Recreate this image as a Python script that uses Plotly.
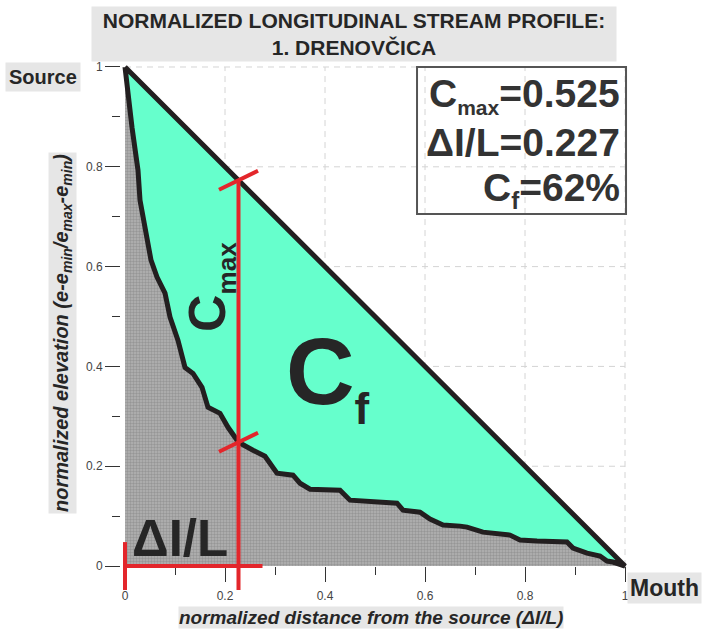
import plotly.graph_objects as go

# ---------------- data ----------------
dist = [0.0, 0.014, 0.026, 0.030, 0.040, 0.052, 0.064, 0.080, 0.090, 0.106, 0.120,
        0.136, 0.154, 0.166, 0.190, 0.206, 0.227, 0.256, 0.280, 0.304, 0.336, 0.350,
        0.370, 0.430, 0.450, 0.470, 0.544, 0.556, 0.590, 0.610, 0.636, 0.670, 0.684,
        0.716, 0.744, 0.770, 0.790, 0.824, 0.884, 0.896, 0.924, 0.950, 0.964, 0.976, 1.0]
elev = [1.0, 0.879, 0.793, 0.733, 0.679, 0.613, 0.579, 0.547, 0.499, 0.452, 0.398,
        0.386, 0.358, 0.318, 0.306, 0.278, 0.248, 0.232, 0.220, 0.186, 0.182, 0.166,
        0.154, 0.152, 0.132, 0.130, 0.126, 0.112, 0.108, 0.094, 0.082, 0.080, 0.078,
        0.068, 0.066, 0.062, 0.052, 0.050, 0.048, 0.036, 0.026, 0.020, 0.010, 0.008, 0.0]
c_max = 0.525
dl_over_L = 0.227
c_f = 62
tick_vals = [0, 0.2, 0.4, 0.6, 0.8, 1]
tick_text = ["0", "0.2", "0.4", "0.6", "0.8", "1"]
grid_vals = [0.2, 0.4, 0.6, 0.8, 1.0]

# ---------------- style ----------------
X_RANGE = [-0.01, 1.01]
Y_RANGE = [-0.05, 1.01]
GREEN = "#66ffcc"
OUTLINE = "#231f20"
RED = "#e3262b"
TXT = "#262626"
FONT = "Liberation Sans, Arial, sans-serif"

fig = go.Figure()

# gray area under the profile
fig.add_trace(go.Scatter(
    x=dist + [0], y=elev + [0], mode="lines", fill="toself",
    fillcolor="#a8a8a8",
    fillpattern=dict(shape=".", bgcolor="#b2b2b2", fgcolor="#7a7a7a", size=3, solidity=0.5),
    line=dict(width=0), hoverinfo="skip", showlegend=False))

# green area between straight line and profile
fig.add_trace(go.Scatter(
    x=[0, 1] + dist[::-1], y=[1, 0] + elev[::-1], mode="lines", fill="toself",
    fillcolor=GREEN, line=dict(color=OUTLINE, width=5),
    hoverinfo="skip", showlegend=False))

shapes = []
# dashed grid
for g in grid_vals:
    shapes.append(dict(type="line", xref="x", yref="y", x0=g, x1=g, y0=0, y1=1,
                       line=dict(color="#d4d4d4", width=1, dash="6px,5px"), layer="below"))
    shapes.append(dict(type="line", xref="x", yref="y", x0=0, x1=1, y0=g, y1=g,
                       line=dict(color="#d4d4d4", width=1, dash="6px,5px"), layer="below"))

top_y = 1 - dl_over_L
low_y = top_y - c_max
ext = 0.048
# red C_max measure
shapes.append(dict(type="line", xref="x", yref="y", x0=dl_over_L, x1=dl_over_L,
                   y0=-ext, y1=top_y, line=dict(color=RED, width=4)))
for cy in (top_y, low_y):
    shapes.append(dict(type="line", xref="x", yref="y", x0=dl_over_L - 0.039, x1=dl_over_L + 0.039,
                       y0=cy - 0.019, y1=cy + 0.019, line=dict(color=RED, width=4)))
# red delta l / L measure
shapes.append(dict(type="line", xref="x", yref="y", x0=0, x1=dl_over_L + ext,
                   y0=0, y1=0, line=dict(color=RED, width=4)))
shapes.append(dict(type="line", xref="x", yref="y", x0=0, x1=0,
                   y0=-ext, y1=ext, line=dict(color=RED, width=4)))
# stats box
shapes.append(dict(type="rect", xref="paper", yref="paper", x0=0.5824, x1=0.9922,
                   y0=0.7127, y1=0.9905, line=dict(color="#555555", width=2),
                   fillcolor="rgba(255,255,255,0)"))

annotations = [
    dict(text="<b>NORMALIZED LONGITUDINAL STREAM PROFILE:<br>1. DRENOVČICA</b>",
         x=0.459, y=1.053, xref="paper", yref="paper", showarrow=False,
         font=dict(family=FONT, size=21, color=TXT), bgcolor="#e6e6e6",
         width=522, height=52, xanchor="center", yanchor="middle"),
    dict(text="<b>Source</b>", x=-0.151, y=0.972, xref="paper", yref="paper", showarrow=False,
         font=dict(family=FONT, size=20, color=TXT), bgcolor="#e6e6e6", borderpad=3,
         xanchor="center", yanchor="middle"),
    dict(text="<b>Mouth</b>", x=1.067, y=0.006, xref="paper", yref="paper", showarrow=False,
         font=dict(family=FONT, size=23, color=TXT), bgcolor="#e6e6e6", borderpad=2,
         xanchor="center", yanchor="middle"),
    dict(text="<b>C<sub><span style='font-size:21px'>max</span></sub>=%.3f</b>" % c_max,
         x=0.9843, y=0.9376, xref="paper", yref="paper", showarrow=False,
         font=dict(family=FONT, size=39, color="#333333"), xanchor="right", yanchor="middle"),
    dict(text="<b>ΔI/L=%.3f</b>" % dl_over_L,
         x=0.9843, y=0.8469, xref="paper", yref="paper", showarrow=False,
         font=dict(family=FONT, size=39, color="#333333"), xanchor="right", yanchor="middle"),
    dict(text="<b>C<sub><span style='font-size:24px'>f</span></sub>=%d%%</b>" % c_f,
         x=0.9843, y=0.7580, xref="paper", yref="paper", showarrow=False,
         font=dict(family=FONT, size=39, color="#333333"), xanchor="right", yanchor="middle"),
    dict(text="<b>C<sub><span style='font-size:26px'>max</span></sub></b>",
         x=0.1765, y=0.5747, xref="paper", yref="paper", showarrow=False, textangle=-90,
         font=dict(family=FONT, size=52, color=TXT), xanchor="center", yanchor="middle"),
    dict(text="<b>C<sub><span style='font-size:44px'>f</span></sub></b>",
         x=0.408, y=0.408, xref="paper", yref="paper", showarrow=False,
         font=dict(family=FONT, size=95, color=TXT), xanchor="center", yanchor="middle"),
    dict(text="<b>ΔI/L</b>", x=0.1176, y=0.0983, xref="paper", yref="paper", showarrow=False,
         font=dict(family=FONT, size=51, color=TXT), xanchor="center", yanchor="middle"),
    dict(text="<b><i>normalized distance from the source (ΔI/L)</i></b>",
         x=0.492, y=-0.051, xref="paper", yref="paper", showarrow=False,
         font=dict(family=FONT, size=19, color=TXT), bgcolor="#e6e6e6", borderpad=0,
         xanchor="center", yanchor="middle"),
    dict(text="<b><i>normalized elevation (e-e<sub>min</sub>/e<sub>max</sub>-e<sub>min</sub>)</i></b>",
         x=-0.1137, y=0.4877, xref="paper", yref="paper", showarrow=False, textangle=-90,
         font=dict(family=FONT, size=20, color=TXT), bgcolor="#e6e6e6",
         xanchor="center", yanchor="middle"),
]

axis_common = dict(
    tickvals=tick_vals, ticktext=tick_text, ticks="outside", ticklen=15, tickwidth=1,
    tickcolor="#333333", showgrid=False, zeroline=False, showline=False,
    tickfont=dict(family=FONT, size=12, color="#444444"),
    minor=dict(dtick=0.1, tick0=0, ticks="outside", ticklen=8, tickwidth=1,
               tickcolor="#333333", showgrid=False),
)

fig.update_layout(
    width=702, height=630,
    margin=dict(l=120, r=72, t=62, b=39),
    paper_bgcolor="white", plot_bgcolor="white",
    xaxis=dict(range=X_RANGE, anchor="free",
               position=(0 - Y_RANGE[0]) / (Y_RANGE[1] - Y_RANGE[0]),
               ticklabelstandoff=4, **axis_common),
    yaxis=dict(range=Y_RANGE, anchor="free", position=0, **axis_common),
    shapes=shapes, annotations=annotations, showlegend=False,
)

fig.write_html("out.html", config={"displayModeBar": False},
               post_script="document.body.style.margin='0';document.body.style.padding='0';")
